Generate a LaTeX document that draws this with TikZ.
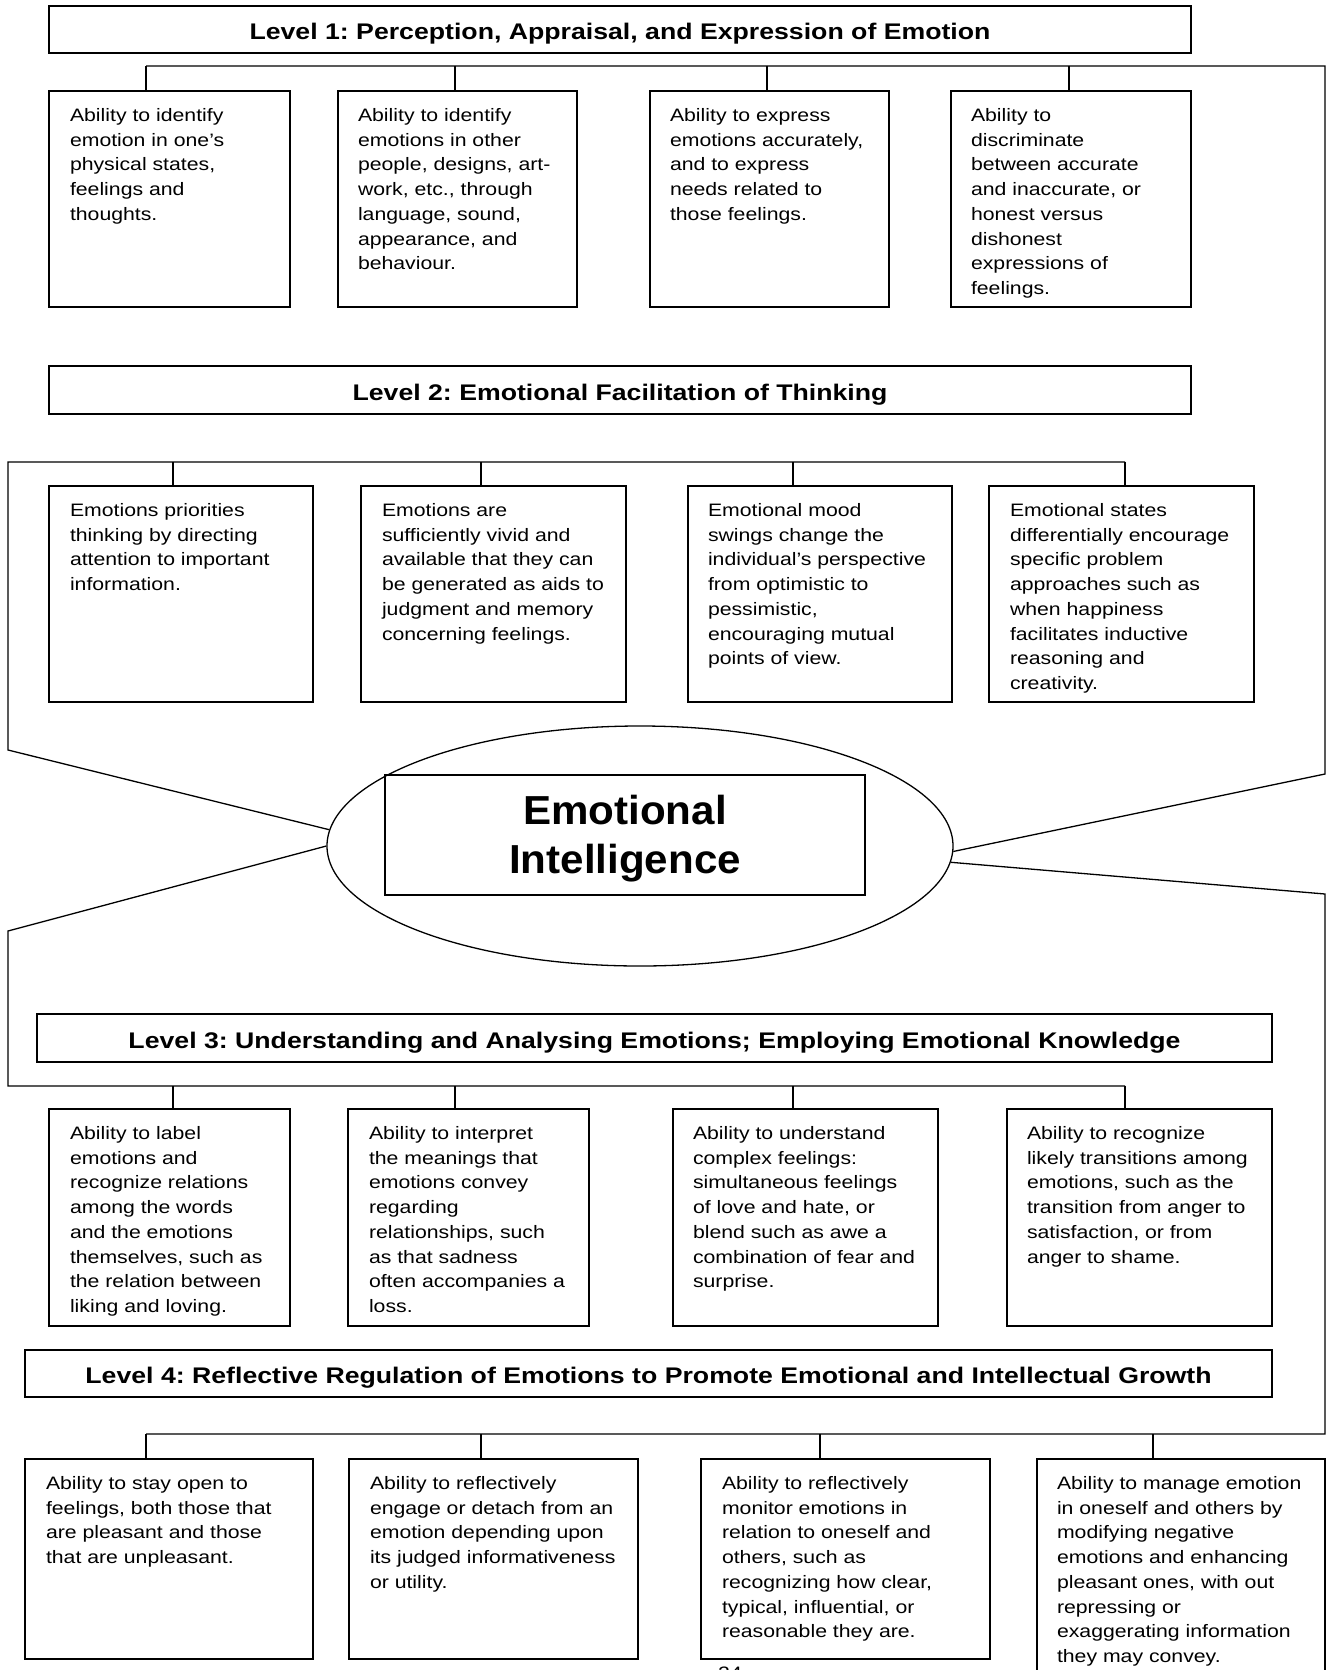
\documentclass[tikz,border=0pt]{standalone}
\usepackage{fontspec}
\setmainfont{Liberation Sans}[FakeStretch=1.18]
\newfontfamily\eifont{Liberation Sans}[FakeStretch=1.04]
\usepackage{tikz}
\usetikzlibrary{shapes.geometric, positioning, calc}
\frenchspacing

\tikzset{
    link/.style={line width=1.3pt},
    abbox/.style={draw, line width=1.4pt, anchor=north west, inner sep=0pt, outer sep=0pt},
    abtext/.style={anchor=north west, align=left, inner sep=0pt, outer sep=0pt, font=\fontsize{18}{24.7}\selectfont},
    levelbox/.style={draw, line width=1.4pt, anchor=north west, inner sep=0pt, outer sep=0pt,
        text height=20pt, text depth=0pt, font=\bfseries\fontsize{22.6}{26}\selectfont}
}

\begin{document}
\begin{tikzpicture}[x=1pt, y=-1pt]
    \useasboundingbox (0,0) rectangle (1327,1670);
    \fill[white] (0,0) rectangle (1327,1670);

    % Centre: Emotional Intelligence
    \node[draw, ellipse, line width=1.3pt, minimum width=626pt, minimum height=240pt, inner sep=0pt] (ei) at (640,846) {};
    \node[draw, line width=1.4pt, minimum width=480pt, minimum height=120pt, inner sep=0pt, align=center,
        font=\eifont\bfseries\fontsize{40.5}{49}\selectfont] (eibox) at (625,835) {};
    \node[align=center, inner sep=0pt, font=\eifont\bfseries\fontsize{40.5}{49}\selectfont] (eitext) at (625,838.5) {Emotional\\Intelligence};

    % Level 1: Perception, Appraisal, and Expression of Emotion
    \node[levelbox, minimum width=1142pt, minimum height=47pt] (lev1) at (49,6) {Level 1: Perception, Appraisal, and Expression of Emotion};
    \node[abbox, minimum width=241pt, minimum height=216pt] (l1a) at (49,91) {};
    \node[abbox, minimum width=239pt, minimum height=216pt] (l1b) at (338,91) {};
    \node[abbox, minimum width=239pt, minimum height=216pt] (l1c) at (650,91) {};
    \node[abbox, minimum width=240pt, minimum height=216pt] (l1d) at (951,91) {};
    \node[abtext] (l1at) at ([xshift=21pt, yshift=-17.5pt]l1a.north west) {Ability to identify\\emotion in one’s\\physical states,\\feelings and\\thoughts.};
    \node[abtext] (l1bt) at ([xshift=20pt, yshift=-17.5pt]l1b.north west) {Ability to identify\\emotions in other\\people, designs, art-\\work, etc., through\\language, sound,\\appearance, and\\behaviour.};
    \node[abtext] (l1ct) at ([xshift=20pt, yshift=-17.5pt]l1c.north west) {Ability to express\\emotions accurately,\\and to express\\needs related to\\those feelings.};
    \node[abtext] (l1dt) at ([xshift=20pt, yshift=-17.5pt]l1d.north west) {Ability to\\discriminate\\between accurate\\and inaccurate, or\\honest versus\\dishonest\\expressions of\\feelings.};

    % Level 2: Emotional Facilitation of Thinking
    \node[levelbox, minimum width=1142pt, minimum height=48pt] (lev2) at (49,366) {Level 2: Emotional Facilitation of Thinking};
    \node[abbox, minimum width=264pt, minimum height=216pt] (l2a) at (49,486) {};
    \node[abbox, minimum width=265pt, minimum height=216pt] (l2b) at (361,486) {};
    \node[abbox, minimum width=264pt, minimum height=216pt] (l2c) at (688,486) {};
    \node[abbox, minimum width=265pt, minimum height=216pt] (l2d) at (989,486) {};
    \node[abtext] (l2at) at ([xshift=21pt, yshift=-17.5pt]l2a.north west) {Emotions priorities\\thinking by directing\\attention to important\\information.};
    \node[abtext] (l2bt) at ([xshift=21pt, yshift=-17.5pt]l2b.north west) {Emotions are\\sufficiently vivid and\\available that they can\\be generated as aids to\\judgment and memory\\concerning feelings.};
    \node[abtext] (l2ct) at ([xshift=20pt, yshift=-17.5pt]l2c.north west) {Emotional mood\\swings change the\\individual’s perspective\\from optimistic to\\pessimistic,\\encouraging mutual\\points of view.};
    \node[abtext] (l2dt) at ([xshift=21pt, yshift=-17.5pt]l2d.north west) {Emotional states\\differentially encourage\\specific problem\\approaches such as\\when happiness\\facilitates inductive\\reasoning and\\creativity.};

    % Level 3: Understanding and Analysing Emotions
    \node[levelbox, minimum width=1235pt, minimum height=48pt] (lev3) at (37,1014) {Level 3: Understanding and Analysing Emotions; Employing Emotional Knowledge};
    \node[abbox, minimum width=241pt, minimum height=217pt] (l3a) at (49,1109) {};
    \node[abbox, minimum width=241pt, minimum height=217pt] (l3b) at (348,1109) {};
    \node[abbox, minimum width=265pt, minimum height=217pt] (l3c) at (673,1109) {};
    \node[abbox, minimum width=265pt, minimum height=217pt] (l3d) at (1007,1109) {};
    \node[abtext] (l3at) at ([xshift=21pt, yshift=-17.5pt]l3a.north west) {Ability to label\\emotions and\\recognize relations\\among the words\\and the emotions\\themselves, such as\\the relation between\\liking and loving.};
    \node[abtext] (l3bt) at ([xshift=21pt, yshift=-17.5pt]l3b.north west) {Ability to interpret\\the meanings that\\emotions convey\\regarding\\relationships, such\\as that sadness\\often accompanies a\\loss.};
    \node[abtext] (l3ct) at ([xshift=20pt, yshift=-17.5pt]l3c.north west) {Ability to understand\\complex feelings:\\simultaneous feelings\\of love and hate, or\\blend such as awe a\\combination of fear and\\surprise.};
    \node[abtext] (l3dt) at ([xshift=20pt, yshift=-17.5pt]l3d.north west) {Ability to recognize\\likely transitions among\\emotions, such as the\\transition from anger to\\satisfaction, or from\\anger to shame.};

    % Level 4: Reflective Regulation of Emotions
    \node[levelbox, minimum width=1247pt, minimum height=47pt] (lev4) at (25,1350) {Level 4: Reflective Regulation of Emotions to Promote Emotional and Intellectual Growth};
    \node[abbox, minimum width=288pt, minimum height=200pt] (l4a) at (25,1459) {};
    \node[abbox, minimum width=289pt, minimum height=200pt] (l4b) at (349,1459) {};
    \node[abbox, minimum width=289pt, minimum height=200pt] (l4c) at (701,1459) {};
    \node[abbox, minimum width=288pt, minimum height=240pt] (l4d) at (1037,1459) {};
    \node[abtext] (l4at) at ([xshift=21pt, yshift=-17.5pt]l4a.north west) {Ability to stay open to\\feelings, both those that\\are pleasant and those\\that are unpleasant.};
    \node[abtext] (l4bt) at ([xshift=21pt, yshift=-17.5pt]l4b.north west) {Ability to reflectively\\engage or detach from an\\emotion depending upon\\its judged informativeness\\or utility.};
    \node[abtext] (l4ct) at ([xshift=21pt, yshift=-17.5pt]l4c.north west) {Ability to reflectively\\monitor emotions in\\relation to oneself and\\others, such as\\recognizing how clear,\\typical, influential, or\\reasonable they are.};
    \node[abtext] (l4dt) at ([xshift=20pt, yshift=-17.5pt]l4d.north west) {Ability to manage emotion\\in oneself and others by\\modifying negative\\emotions and enhancing\\pleasant ones, with out\\repressing or\\exaggerating information\\they may convey.};

    % page number, cut off at the bottom
    \node[anchor=north west, inner sep=0pt, font=\fontsize{18}{22}\selectfont] (pgno) at (718,1666.5) {24};

    % Connectors from the centre to each level
    \coordinate (r1bot) at (1325,774);
    \coordinate (r1top) at (1325,66);
    \coordinate (bus1) at (146,66);
    \draw[link] (ei.359.6) -- (r1bot) -- (r1top) -- (bus1);
    \foreach \b/\x in {l1a/146, l1b/455, l1c/767, l1d/1069}
        \draw[link] (\x,66) -- (\x,66 |- \b.north);

    \coordinate (l2bot) at (8,750);
    \coordinate (l2top) at (8,462);
    \coordinate (bus2) at (1125,462);
    \draw[link] (ei.177.6) -- (l2bot) -- (l2top) -- (bus2);
    \foreach \b/\x in {l2a/173, l2b/481, l2c/793, l2d/1125}
        \draw[link] (\x,462) -- (\x,462 |- \b.north);

    \coordinate (l3top) at (8,931);
    \coordinate (l3bot) at (8,1086);
    \coordinate (bus3) at (1125,1086);
    \draw[link] (ei.180) -- (l3top) -- (l3bot) -- (bus3);
    \foreach \b/\x in {l3a/173, l3b/455, l3c/793, l3d/1125}
        \draw[link] (\x,1086) -- (\x,1086 |- \b.north);

    \coordinate (r4top) at (1325,894);
    \coordinate (r4bot) at (1325,1434);
    \coordinate (bus4) at (146,1434);
    \draw[link] (ei.357.4) -- (r4top) -- (r4bot) -- (bus4);
    \foreach \b/\x in {l4a/146, l4b/481, l4c/820, l4d/1153}
        \draw[link] (\x,1434) -- (\x,1434 |- \b.north);

\end{tikzpicture}
\end{document}
